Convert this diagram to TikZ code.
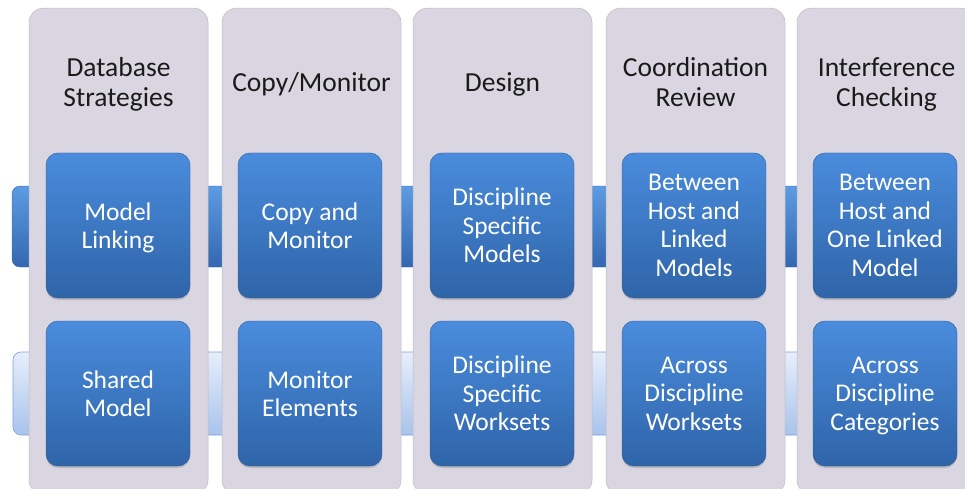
\documentclass[tikz,border=0pt]{standalone}
\usepackage{fontspec}
\setmainfont{Carlito}
\usetikzlibrary{shadows}
\definecolor{colfill}{HTML}{D9D5E1}
\definecolor{boxtop}{HTML}{4A8CDD}
\definecolor{boxbot}{HTML}{2F64A8}
\definecolor{bartop}{HTML}{5C9BE2}
\definecolor{barbot}{HTML}{3468B0}
\definecolor{lbartop}{HTML}{E6EEFB}
\definecolor{lbarbot}{HTML}{A9C3EC}
\definecolor{lbarline}{HTML}{7F9FD6}
\definecolor{hdrtext}{HTML}{1A1A1A}
\tikzset{
  column/.style={fill=colfill, rounded corners=14pt, draw=colfill!88!black, line width=0.5pt,
    minimum width=179pt, minimum height=486pt, inner sep=0pt, anchor=north},
  header/.style={text=hdrtext, font=\fontsize{27.5}{30}\selectfont, align=center, inner sep=0pt,
    text depth=0pt},
  bluebox/.style={rounded corners=12pt, top color=boxtop, bottom color=boxbot,
    draw=boxbot!90!black, line width=0.4pt,
    minimum width=144pt, minimum height=145pt, text=white,
    font=\fontsize{25.5}{28.5}\selectfont, align=center, inner sep=0pt, text depth=0pt,
    drop shadow={opacity=0.35, shadow xshift=0pt, shadow yshift=-2pt}},
  darkbar/.style={rounded corners=8pt, top color=bartop, bottom color=barbot,
    draw=barbot, line width=0.4pt, minimum width=948pt, minimum height=81pt, inner sep=0pt},
  lightbar/.style={rounded corners=8pt, top color=lbartop, bottom color=lbarbot,
    draw=lbarline, line width=0.6pt, minimum width=947pt, minimum height=83pt, inner sep=0pt}
}
\begin{document}
\begin{tikzpicture}[x=1pt,y=-1pt]
\clip (0,0) rectangle (965,489);
\fill[white] (0,0) rectangle (965,489);
% horizontal bars
\node[darkbar] (bar1) at (486,226.5) {};
\node[lightbar] (bar2) at (486.5,393.5) {};
% columns
\node[column] (c1) at (118.5,8) {};
\node[column] (c2) at (311.5,8) {};
\node[column] (c3) at (502.5,8) {};
\node[column] (c4) at (695.5,8) {};
\node[column] (c5) at (886.5,8) {};
% headers
\node[header] (h1) at (118.5,82) {Database\\Strategies};
\node[header] (h2) at (311.5,82) {Copy/Monitor};
\node[header] (h3) at (502.5,82) {Design};
\node[header] (h4) at (695.5,82) {Coordination\\Review};
\node[header] (h5) at (886.5,82) {Interference\\Checking};
% top row boxes
\node[bluebox] (b11) at (118,225.5) {Model\\Linking};
\node[bluebox] (b21) at (310,225.5) {Copy and\\Monitor};
\node[bluebox] (b31) at (502,225.5) {Discipline\\Specific\\Models};
\node[bluebox] (b41) at (694,225.5) {Between\\Host and\\Linked\\Models};
\node[bluebox] (b51) at (885,225.5) {Between\\Host and\\One Linked\\Model};
% bottom row boxes
\node[bluebox] (b12) at (118,393.5) {Shared\\Model};
\node[bluebox] (b22) at (310,393.5) {Monitor\\Elements};
\node[bluebox] (b32) at (502,393.5) {Discipline\\Specific\\Worksets};
\node[bluebox] (b42) at (694,393.5) {Across\\Discipline\\Worksets};
\node[bluebox] (b52) at (885,393.5) {Across\\Discipline\\Categories};
\end{tikzpicture}
\end{document}
